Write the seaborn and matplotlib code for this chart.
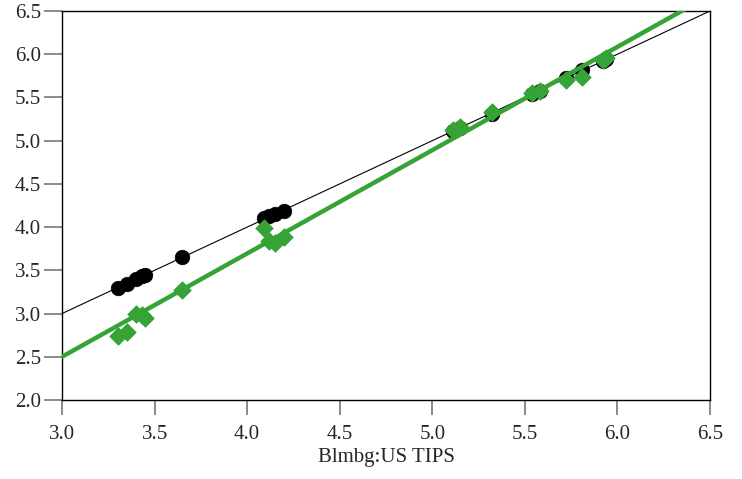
import numpy as np
import pandas as pd
import matplotlib
matplotlib.use('Agg')
import matplotlib.pyplot as plt
import seaborn as sns

# values
tips = [3.30, 3.35, 3.40, 3.43, 3.45, 3.65, 4.09, 4.12, 4.15, 4.20,
        5.11, 5.15, 5.32, 5.54, 5.58, 5.72, 5.81, 5.92, 5.94]
black_y = [3.30, 3.34, 3.40, 3.43, 3.45, 3.65, 4.10, 4.13, 4.15, 4.19,
           5.11, 5.15, 5.31, 5.54, 5.58, 5.72, 5.82, 5.92, 5.94]
green_y = [2.74, 2.79, 3.00, 2.98, 2.95, 3.27, 3.99, 3.84, 3.82, 3.89,
           5.12, 5.16, 5.33, 5.55, 5.58, 5.70, 5.74, 5.93, 5.96]

# reference lines: identity and green fit (value at x=3, slope)
ident_coef = (3.0, 1.0)
green_coef = (2.50, 1.195)

xticks = [3.0, 3.5, 4.0, 4.5, 5.0, 5.5, 6.0, 6.5]
yticks = [2.0, 2.5, 3.0, 3.5, 4.0, 4.5, 5.0, 5.5, 6.0, 6.5]
xlabel = 'Blmbg:US TIPS'

green = '#36a336'

sns.set_style('white')
plt.rcParams['font.family'] = ['Liberation Serif', 'DejaVu Serif']

df = pd.DataFrame({'x': tips, 'black': black_y, 'green': green_y})

fig = plt.figure(figsize=(7.42, 4.79), dpi=100)
ax = fig.add_axes([62 / 742, 79 / 479, 648 / 742, 389 / 479])

xx = np.array([xticks[0], xticks[-1]])
lines = pd.DataFrame({
    'x': xx,
    'ident': ident_coef[0] + ident_coef[1] * (xx - 3.0),
    'fit': green_coef[0] + green_coef[1] * (xx - 3.0),
})

sns.lineplot(data=lines, x='x', y='ident', color='black', lw=0.8, ax=ax, zorder=2)
sns.scatterplot(data=df, x='x', y='black', color='black', marker='o', s=110,
                edgecolor='black', linewidth=0.5, ax=ax, zorder=3)
sns.scatterplot(data=df, x='x', y='green', color=green, marker='D', s=80,
                edgecolor=green, linewidth=0.5, ax=ax, zorder=4)
sns.lineplot(data=lines, x='x', y='fit', color=green, lw=3.2, ax=ax, zorder=5)

ax.set_xlim(xticks[0], xticks[-1])
ax.set_ylim(yticks[0], yticks[-1])
ax.set_xticks(xticks)
ax.set_yticks(yticks)
ax.set_xticklabels([f'{t:.1f}' for t in xticks])
ax.set_yticklabels([f'{t:.1f}' for t in yticks])
ax.tick_params(axis='both', direction='out', width=1.2, color='#777777',
               labelsize=15, bottom=True, left=True)
ax.tick_params(axis='x', length=11, pad=7)
ax.tick_params(axis='y', length=13, pad=2)
ax.set_xlabel(xlabel, fontsize=15, labelpad=3)
ax.set_ylabel('')
for sp in ax.spines.values():
    sp.set_color('black')
    sp.set_linewidth(1.0)

fig.savefig('out.png', dpi=100)
